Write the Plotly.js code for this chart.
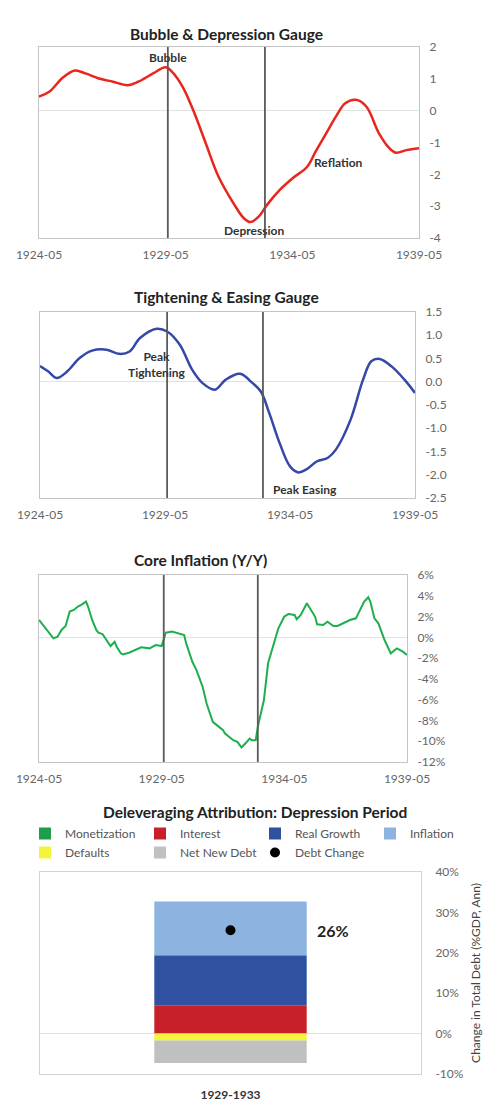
<!DOCTYPE html>
<html>
<head>
<meta charset="utf-8">
<script src="https://cdn.plot.ly/plotly-3.0.1.min.js"></script>
<style>html,body{margin:0;padding:0;background:#fff;}#chart{width:498px;height:1118px;}</style>
</head>
<body>
<div id="chart"></div>
<script>
// ---- Chart 1: Bubble & Depression Gauge ----
const bubbleDates = ['1924-05','1924-10','1925-04','1925-10','1926-03','1926-09','1927-04','1927-11','1928-04','1928-11','1929-05','1929-08','1930-01','1930-06','1930-12','1931-06','1932-01','1932-06','1932-09','1933-01','1933-05','1933-11','1934-05','1934-12','1935-04','1935-09','1936-02','1936-06','1936-11','1937-04','1937-10','1938-03','1938-06','1938-11','1939-05'];
const bubbleValues = [0.44,0.6,1.02,1.26,1.17,1.02,0.91,0.8,0.91,1.17,1.36,1.22,0.75,0.02,-1.03,-2.07,-2.9,-3.38,-3.5,-3.33,-2.96,-2.49,-2.13,-1.76,-1.29,-0.71,-0.14,0.23,0.34,0.13,-0.71,-1.18,-1.32,-1.24,-1.18];
const bubbleTickVals = [2,1,0,-1,-2,-3,-4];
const bubbleTickText = ['2','1','0','-1','-2','-3','-4'];

// ---- Chart 2: Tightening & Easing Gauge ----
const tightDates = ['1924-05','1924-09','1925-01','1925-06','1925-12','1926-06','1927-01','1927-07','1927-12','1928-05','1929-01','1929-06','1929-12','1930-06','1930-11','1931-05','1931-10','1932-05','1932-11','1933-03','1933-07','1933-12','1934-05','1934-09','1935-01','1935-06','1935-11','1936-03','1936-10','1937-04','1937-08','1937-12','1938-06','1938-12','1939-05'];
const tightValues = [0.34,0.22,0.08,0.22,0.51,0.67,0.69,0.6,0.65,0.94,1.14,1.08,0.8,0.26,-0.03,-0.17,0.04,0.17,-0.03,-0.21,-0.67,-1.32,-1.82,-1.95,-1.88,-1.71,-1.64,-1.46,-0.82,0.04,0.44,0.49,0.32,0.04,-0.24];
const tightTickVals = [1.5,1.0,0.5,0.0,-0.5,-1.0,-1.5,-2.0,-2.5];
const tightTickText = ['1.5','1.0','0.5','0.0','-0.5','-1.0','-1.5','-2.0','-2.5'];

// ---- Chart 3: Core Inflation (Y/Y) ----
const inflDates = ['1924-05','1924-08','1924-10','1924-12','1925-02','1925-04','1925-06','1925-08','1925-10','1925-12','1926-02','1926-04','1926-05','1926-07','1926-09','1926-10','1926-12','1927-02','1927-04','1927-06','1927-07','1927-09','1927-10','1928-01','1928-04','1928-07','1928-11','1929-02','1929-05','1929-06','1929-07','1929-10','1930-01','1930-04','1930-05','1930-08','1930-10','1931-01','1931-03','1931-06','1931-09','1931-11','1931-12','1932-02','1932-04','1932-06','1932-08','1932-10','1932-12','1933-01','1933-03','1933-04','1933-07','1933-09','1933-12','1934-02','1934-05','1934-07','1934-10','1934-11','1935-01','1935-03','1935-04','1935-05','1935-08','1935-09','1935-12','1936-02','1936-05','1936-07','1936-10','1937-01','1937-04','1937-06','1937-08','1937-10','1937-11','1938-01','1938-03','1938-06','1938-09','1938-12','1939-03','1939-05'];
const inflValues = [1.67,0.87,0.39,-0.1,0.06,0.71,1.09,2.48,2.64,2.96,3.18,3.44,2.96,1.67,0.71,0.45,0.32,-0.26,-0.84,-0.42,-0.9,-1.54,-1.64,-1.48,-1.22,-0.96,-1.06,-0.74,-0.84,-0.26,0.45,0.55,0.39,0.23,-0.58,-2.35,-3.15,-4.76,-6.37,-8.14,-8.62,-8.94,-9.26,-9.58,-9.9,-10.06,-10.6,-10.2,-9.74,-9.9,-9.9,-8.62,-6.04,-2.5,-0.58,0.87,2.0,2.25,2.15,1.74,2.15,2.96,3.28,2.96,2.0,1.25,1.19,1.5,1.09,1.09,1.41,1.67,1.83,2.64,3.44,3.86,3.44,1.83,1.35,-0.26,-1.54,-1.06,-1.38,-1.7];
const inflTickVals = [6,4,2,0,-2,-4,-6,-8,-10,-12];
const inflTickText = ['6%','4%','2%','0%','-2%','-4%','-6%','-8%','-10%','-12%'];

// shared x ticks
const dateTickVals = ['1924-05-01','1929-05-01','1934-05-01','1939-05-01'];
const dateTickText = ['1924-05','1929-05','1934-05','1939-05'];
const markerDates = ['1929-06-01','1933-04-01'];

// ---- Chart 4: Deleveraging Attribution ----
const period = ['1929-1933'];
const attribNames = ['Monetization','Interest','Real Growth','Inflation','Defaults','Net New Debt'];
const attribValues = [0, 7.0, 12.4, 13.3, -1.7, -5.6];
const attribColors = ['#1e9e4a','#c8202a','#3050a0','#8db4e0','#f4f43c','#c0c0c0'];
const debtChange = [25.6];
const debtChangeLabel = '26%';
const attribTickVals = [40,30,20,10,0,-10];
const attribTickText = ['40%','30%','20%','10%','0%','-10%'];

// ---- layout helpers (pixel -> paper) ----
const W = 498, H = 1118;
const px = v => v / W;
const py = v => 1 - v / H;

const FONT = 'Lato, "Open Sans", sans-serif';
const tickFont = {family: FONT, size: 12, color: '#666'};
const frame = '#c4c4c4';

function xDate(dom, anchor) {
  return {domain: [px(dom[0]), px(dom[1])], anchor: anchor, type: 'date',
    range: ['1924-05-01','1939-05-01'], tickvals: dateTickVals, ticktext: dateTickText,
    showgrid: false, zeroline: false, showline: true, mirror: true, linecolor: frame, linewidth: 1,
    ticks: '', tickfont: tickFont, ticklabelstandoff: 6, fixedrange: true};
}
function yNum(dom, anchor, range, tv, tt) {
  return {domain: [py(dom[1]), py(dom[0])], anchor: anchor, side: 'right', range: range,
    tickvals: tv, ticktext: tt, showgrid: false, zeroline: true, zerolinecolor: '#e2e2e2', zerolinewidth: 1,
    showline: true, mirror: true, linecolor: frame, linewidth: 1, ticks: '', tickfont: tickFont,
    ticklabelstandoff: 7, fixedrange: true};
}

const traces = [
  {x: bubbleDates, y: bubbleValues, xaxis: 'x', yaxis: 'y', type: 'scatter', mode: 'lines',
   line: {color: '#e8261c', width: 2.5, shape: 'spline', smoothing: 1}, showlegend: false, hoverinfo: 'skip'},
  {x: tightDates, y: tightValues, xaxis: 'x2', yaxis: 'y2', type: 'scatter', mode: 'lines',
   line: {color: '#3448a8', width: 2.5, shape: 'spline', smoothing: 1}, showlegend: false, hoverinfo: 'skip'},
  {x: inflDates, y: inflValues, xaxis: 'x3', yaxis: 'y3', type: 'scatter', mode: 'lines',
   line: {color: '#1fae4e', width: 2}, showlegend: false, hoverinfo: 'skip'}
];
attribNames.forEach((n, i) => {
  traces.push({x: period, y: [attribValues[i]], name: n, type: 'bar', xaxis: 'x4', yaxis: 'y4',
    marker: {color: attribColors[i]}, width: 0.4, hoverinfo: 'skip'});
});
traces.push({x: period, y: debtChange, name: 'Debt Change', type: 'scatter', mode: 'markers',
  xaxis: 'x4', yaxis: 'y4', marker: {color: '#000', size: 10}, hoverinfo: 'skip'});

const shapes = [];
[['x','y'],['x2','y2'],['x3','y3']].forEach(([xa, ya]) => {
  markerDates.forEach(d => shapes.push({type: 'line', xref: xa, yref: ya + ' domain', x0: d, x1: d, y0: 0, y1: 1,
    line: {color: '#5a5a5a', width: 1.8}}));
});

const titleFont = {family: FONT, size: 15.5, color: '#222', weight: 'bold'};
const labFont = {family: FONT, size: 12, color: '#333', weight: 'bold'};
function ann(o) { return Object.assign({showarrow: false, xanchor: 'center', yanchor: 'middle'}, o); }
const annotations = [
  ann({text: 'Bubble & Depression Gauge', xref: 'paper', yref: 'paper', x: px(226), y: py(34), font: titleFont}),
  ann({text: 'Tightening & Easing Gauge', xref: 'paper', yref: 'paper', x: px(226), y: py(297), font: titleFont}),
  ann({text: 'Core Inflation (Y/Y)', xref: 'paper', yref: 'paper', x: px(200), y: py(560), font: titleFont}),
  ann({text: 'Deleveraging Attribution: Depression Period', xref: 'paper', yref: 'paper', x: px(255), y: py(812), font: titleFont}),
  ann({text: 'Bubble', xref: 'x', yref: 'y', x: '1929-06-01', y: 1.68, font: labFont}),
  ann({text: 'Depression', xref: 'x', yref: 'y', x: '1932-11-01', y: -3.77, font: labFont}),
  ann({text: 'Reflation', xref: 'x', yref: 'y', x: '1936-03-01', y: -1.63, font: labFont}),
  ann({text: 'Peak<br>Tightening', xref: 'x2', yref: 'y2', x: '1929-01-01', y: 0.37, font: labFont}),
  ann({text: 'Peak Easing', xref: 'x2', yref: 'y2', x: '1934-12-01', y: -2.31, font: labFont}),
  ann({text: debtChangeLabel, xref: 'paper', yref: 'y4', x: px(333), y: debtChange[0],
   font: {family: FONT, size: 16, color: '#222', weight: 'bold'}})
];

const layout = {
  width: W, height: H, margin: {l: 0, r: 0, t: 0, b: 0},
  paper_bgcolor: '#fff', plot_bgcolor: '#fff', font: {family: FONT},
  barmode: 'relative',
  xaxis: xDate([39, 419], 'y'),
  yaxis: yNum([47, 238], 'x', [-4, 2], bubbleTickVals, bubbleTickText),
  xaxis2: xDate([40, 415], 'y2'),
  yaxis2: yNum([312, 498], 'x2', [-2.5, 1.5], tightTickVals, tightTickText),
  xaxis3: xDate([39, 407], 'y3'),
  yaxis3: yNum([575, 762], 'x3', [-12, 6], inflTickVals, inflTickText),
  xaxis4: {domain: [px(40), px(421)], anchor: 'y4', type: 'category', showgrid: false, zeroline: false,
    showline: true, mirror: true, linecolor: '#d4d4d4', ticks: '', fixedrange: true, ticklabelstandoff: 10,
    tickfont: {family: FONT, size: 12, color: '#333', weight: 'bold'}},
  yaxis4: Object.assign(yNum([872, 1074], 'x4', [-10, 40], attribTickVals, attribTickText),
    {linecolor: '#d4d4d4', ticklabelstandoff: 11,
     title: {text: 'Change in Total Debt (%GDP, Ann)', font: {family: FONT, size: 12, color: '#444'}, standoff: 8}}),
  showlegend: true,
  legend: {orientation: 'h', x: px(25), y: py(819), xanchor: 'left', yanchor: 'top',
    font: {family: FONT, size: 12, color: '#555'}, entrywidth: 70, entrywidthmode: 'pixels',
    itemwidth: 30, traceorder: 'normal', tracegroupgap: 0, bgcolor: 'rgba(0,0,0,0)'},
  shapes: shapes,
  annotations: annotations
};

Plotly.newPlot('chart', traces, layout, {displayModeBar: false, staticPlot: true});
</script>
</body>
</html>
